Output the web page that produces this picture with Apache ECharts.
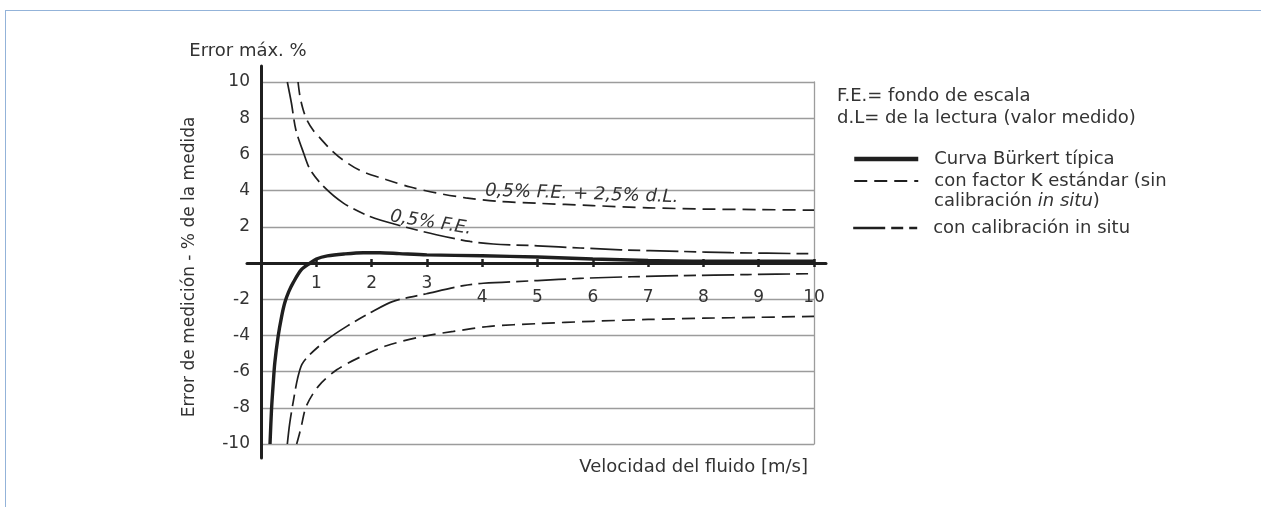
<!DOCTYPE html>
<html>
<head>
<meta charset="utf-8">
<script src="https://cdn.jsdelivr.net/npm/echarts@6/dist/echarts.min.js"></script>
<style>
  html, body { margin: 0; padding: 0; background: #fff; }
  #chart { position: absolute; left: 0; top: 0; width: 1261px; height: 507px; }
  #frame { position: absolute; left: 5px; top: 10px; right: 0; bottom: 0;
           border-top: 1.5px solid #93b3d9; border-left: 1.5px solid #93b3d9; pointer-events: none; }
</style>
</head>
<body>
<div id="chart"></div>
<div id="frame"></div>
<script>
// ---- data ----
const xTicks = [0, 1, 2, 3, 4, 5, 6, 7, 8, 9, 10];
const yTicks = [-10, -8, -6, -4, -2, 0, 2, 4, 6, 8, 10];

const velBurkert = [0.163, 0.19, 0.22, 0.25, 0.31, 0.37, 0.43, 0.5, 0.58, 0.73, 0.89, 1.0, 1.2, 1.5, 1.85, 2.15, 2.5, 3, 4, 5, 6, 7, 8, 9, 10];
const errBurkert = [-10, -8.1, -6.7, -5.5, -4.05, -3.0, -2.2, -1.6, -1.1, -0.37, 0, 0.22, 0.39, 0.5, 0.57, 0.57, 0.52, 0.45, 0.4, 0.33, 0.22, 0.14, 0.1, 0.1, 0.1];

const velKUpper = [0.67, 0.705, 0.76, 0.83, 0.95, 1.07, 1.25, 1.48, 1.8, 2.27, 2.7, 3.17, 3.7, 4.3, 5, 6, 7, 8, 9, 10];
const errKUpper = [10, 9.2, 8.5, 7.9, 7.3, 6.9, 6.3, 5.7, 5.1, 4.6, 4.2, 3.87, 3.6, 3.4, 3.3, 3.17, 3.05, 2.98, 2.95, 2.92];

const velKLower = [0.645, 0.69, 0.73, 0.82, 1.04, 1.37, 1.79, 2.27, 2.93, 3.48, 4.14, 5, 6, 7, 8, 9, 10];
const errKLower = [-10, -9.5, -9.0, -7.9, -6.8, -5.9, -5.2, -4.57, -4.05, -3.78, -3.5, -3.35, -3.22, -3.12, -3.05, -3.0, -2.95];

const velCalUpper = [0.476, 0.55, 0.63, 0.77, 0.89, 1.13, 1.49, 1.97, 2.57, 3.17, 3.78, 4.2, 5, 5.77, 6.5, 7.58, 8.5, 10];
const errCalUpper = [10, 8.84, 7.36, 6.08, 5.15, 4.23, 3.31, 2.57, 2.02, 1.56, 1.19, 1.05, 0.95, 0.83, 0.73, 0.64, 0.57, 0.51];

const velCalLower = [0.476, 0.52, 0.6, 0.66, 0.74, 0.88, 1.19, 1.55, 1.97, 2.39, 2.99, 3.66, 4.02, 5, 5.77, 6.7, 7.58, 8.8, 10];
const errCalLower = [-10, -8.84, -7.37, -6.4, -5.6, -5.07, -4.24, -3.5, -2.76, -2.12, -1.7, -1.25, -1.12, -0.97, -0.85, -0.76, -0.70, -0.64, -0.59];

const nameBurkert = 'Curva Bürkert típica';
const nameK = 'con factor K estándar (sin calibración in situ)';
const nameCal = 'con calibración in situ';

// ---- build ----
const zip = (xs, ys) => xs.map((x, i) => [x, ys[i]]);
const FONT = 'DejaVu Sans';
const TXT = '#333';
const INK = '#1f1f1f';
const dashK = [13, 7];
const dashCal = [32, 6, 12, 6];

const gridTop = 82, gridHeight = 362;
const zeroOffset = -gridHeight / 2; // y = 0 lies in the middle of the -10..10 range

const chart = echarts.init(document.getElementById('chart'), null, { renderer: 'canvas' });

const legendCommon = {
  orient: 'vertical', left: 852, padding: 0,
  itemWidth: 64, itemHeight: 14, itemGap: 2,
  itemStyle: { opacity: 0 },
  textStyle: { fontFamily: FONT, fontSize: 18, color: TXT, lineHeight: 20, padding: [0, 0, 0, 11] },
  selectedMode: false
};

const option = {
  animation: false,
  backgroundColor: '#fff',
  textStyle: { fontFamily: FONT, color: TXT },
  title: [
    {
      text: 'F.E.= fondo de escala\nd.L= de la lectura (valor medido)',
      left: 832, top: 80,
      textStyle: { fontFamily: FONT, fontSize: 18, fontWeight: 'normal', color: TXT, lineHeight: 22 }
    },
    {
      text: 'Velocidad del fluido [m/s]',
      right: 1261 - 813, top: 453,
      textStyle: { fontFamily: FONT, fontSize: 18, fontWeight: 'normal', color: TXT }
    }
  ],
  legend: [
    Object.assign({}, legendCommon, {
      data: [
        { name: nameBurkert, lineStyle: { width: 4.5 } },
        { name: nameK, lineStyle: { width: 2 } }
      ],
      top: 149,
      formatter: n => n === nameK ? 'con factor K estándar (sin' : n
    }),
    Object.assign({}, legendCommon, {
      data: [{ name: nameCal, lineStyle: { width: 2.4 } }],
      top: 218
    })
  ],
  grid: [
    { left: 261, width: 553, top: gridTop, height: gridHeight },
    { left: 247, width: 579, top: 66, height: 392 }
  ],
  xAxis: [
    {
      gridIndex: 0, type: 'value', position: 'bottom', offset: zeroOffset,
      min: xTicks[0], max: xTicks[xTicks.length - 1], interval: 1,
      axisLine: { show: false, onZero: false },
      axisTick: { show: true, length: 4, lineStyle: { color: INK, width: 2.5 } },
      splitLine: { show: false },
      axisLabel: {
        margin: 12, fontFamily: FONT, fontSize: 17, color: TXT,
        formatter: v => v === 0 ? '' : (v <= 3 ? '{a|' + v + '}' : '{b|' + v + '}'),
        rich: {
          a: { fontFamily: FONT, fontSize: 17, color: TXT },
          b: { fontFamily: FONT, fontSize: 17, color: TXT, padding: [14, 0, 0, 0] }
        }
      }
    },
    {
      gridIndex: 0, type: 'value', position: 'top', offset: zeroOffset,
      min: xTicks[0], max: xTicks[xTicks.length - 1], interval: 1,
      axisLine: { show: false, onZero: false },
      axisTick: { show: true, length: 4, lineStyle: { color: INK, width: 2.5 } },
      splitLine: { show: false },
      axisLabel: { show: false }
    },
    {
      gridIndex: 1, type: 'value', min: -0.253, max: 10.22,
      axisLine: { show: true, onZero: true, lineStyle: { color: INK, width: 3 } },
      axisTick: { show: false }, splitLine: { show: false }, axisLabel: { show: false }
    }
  ],
  yAxis: [
    {
      gridIndex: 0, type: 'value', min: yTicks[0], max: yTicks[yTicks.length - 1], interval: 2,
      axisLine: { show: false, onZero: false },
      axisTick: { show: false },
      splitLine: { show: true, lineStyle: { color: '#9c9c9c', width: 1.3 } },
      axisLabel: {
        margin: 11, fontFamily: FONT, fontSize: 17, color: TXT,
        formatter: v => v === 0 ? '' : String(v)
      },
      name: 'Error de medición - % de la medida',
      nameLocation: 'middle', nameRotate: 90, nameGap: 63,
      nameTextStyle: { fontFamily: FONT, fontSize: 17, color: TXT, padding: [0, 8, 0, 0] }
    },
    {
      gridIndex: 0, type: 'value', position: 'right', min: yTicks[0], max: yTicks[yTicks.length - 1], interval: 2,
      axisLine: { show: true, onZero: false, lineStyle: { color: '#9c9c9c', width: 1.3 } },
      axisTick: { show: false }, splitLine: { show: false }, axisLabel: { show: false }
    },
    {
      gridIndex: 1, type: 'value', min: -10.76, max: 10.9,
      axisLine: { show: true, onZero: true, lineStyle: { color: INK, width: 3 } },
      axisTick: { show: false }, splitLine: { show: false }, axisLabel: { show: false },
      name: 'Error máx. %', nameLocation: 'end', nameGap: 6,
      nameTextStyle: { fontFamily: FONT, fontSize: 18, color: TXT, align: 'center', padding: [0, 26, 0, 0] }
    }
  ],
  series: [
    {
      name: nameK, type: 'line', xAxisIndex: 0, yAxisIndex: 0, data: zip(velKUpper, errKUpper),
      smooth: 0.3, symbol: 'none', color: INK, itemStyle: { opacity: 0 },
      lineStyle: { color: INK, width: 1.7, type: dashK }
    },
    {
      name: nameK, type: 'line', xAxisIndex: 0, yAxisIndex: 0, data: zip(velKLower, errKLower),
      smooth: 0.3, symbol: 'none', color: INK, itemStyle: { opacity: 0 },
      lineStyle: { color: INK, width: 1.7, type: dashK }
    },
    {
      name: nameCal, type: 'line', xAxisIndex: 0, yAxisIndex: 0, data: zip(velCalUpper, errCalUpper),
      smooth: 0.3, symbol: 'none', color: INK, itemStyle: { opacity: 0 },
      lineStyle: { color: INK, width: 1.7, type: dashCal }
    },
    {
      name: nameCal, type: 'line', xAxisIndex: 0, yAxisIndex: 0, data: zip(velCalLower, errCalLower),
      smooth: 0.3, symbol: 'none', color: INK, itemStyle: { opacity: 0 },
      lineStyle: { color: INK, width: 1.7, type: dashCal }
    },
    {
      name: nameBurkert, type: 'line', xAxisIndex: 0, yAxisIndex: 0, data: zip(velBurkert, errBurkert),
      smooth: 0.3, symbol: 'none', color: INK, z: 5, itemStyle: { opacity: 0 },
      lineStyle: { color: INK, width: 3.4 }
    }
  ]
};
chart.setOption(option);

// annotations anchored in data coordinates
const labelUpperAt = [5.8, 3.8];
const labelLowerAt = [3.07, 2.22];
const pU = chart.convertToPixel({ gridIndex: 0 }, labelUpperAt);
const pL = chart.convertToPixel({ gridIndex: 0 }, labelLowerAt);
chart.setOption({
  graphic: [
    {
      type: 'text', x: pU[0], y: pU[1], rotation: -2 * Math.PI / 180, z: 10,
      style: { text: '0,5% F.E. + 2,5% d.L.', fontFamily: FONT, fontSize: 18, fontStyle: 'italic',
               fill: TXT, align: 'center', verticalAlign: 'middle' }
    },
    {
      type: 'text', x: pL[0], y: pL[1], rotation: -9 * Math.PI / 180, z: 10,
      style: { text: '0,5% F.E.', fontFamily: FONT, fontSize: 18, fontStyle: 'italic',
               fill: TXT, align: 'center', verticalAlign: 'middle' }
    },
    {
      type: 'text', left: 934, top: 192, z: 10,
      style: {
        text: '{n|calibración }{i|in situ}{n|)}',
        rich: {
          n: { fontFamily: FONT, fontSize: 18, fill: TXT },
          i: { fontFamily: FONT, fontSize: 18, fontStyle: 'italic', fill: TXT }
        }
      }
    }
  ]
});
</script>
</body>
</html>
